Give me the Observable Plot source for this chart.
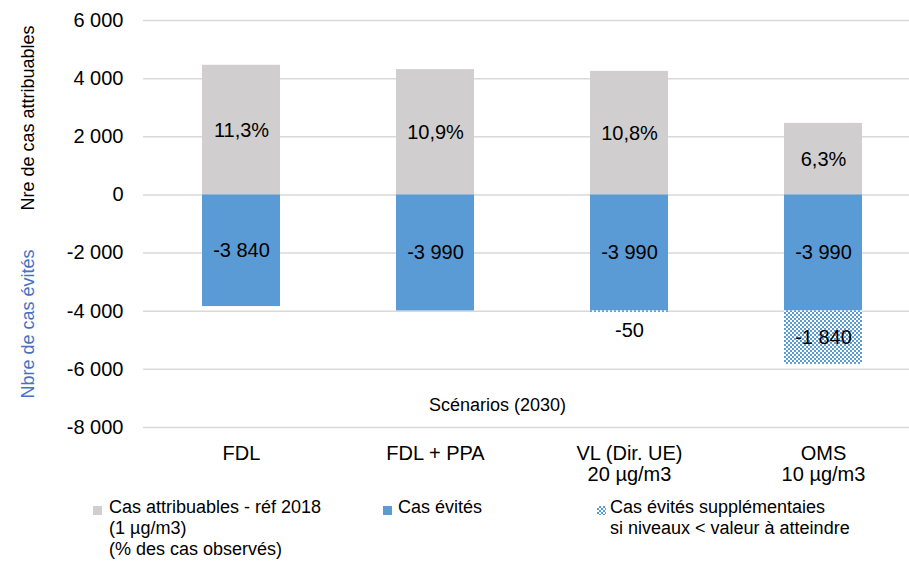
<!DOCTYPE html>
<html><head><meta charset="utf-8">
<script src="https://cdn.jsdelivr.net/npm/d3@7"></script>
<script src="https://cdn.jsdelivr.net/npm/@observablehq/plot@0.6"></script>
<style>
body{margin:0;background:#fff;font-family:"Liberation Sans",Arial,sans-serif;}
#wrap{position:relative;width:909px;height:566px;overflow:hidden;}
.leg{position:absolute;font-size:18px;line-height:21px;color:#000;white-space:nowrap;}
.sw{position:absolute;width:9px;height:9px;}
</style></head><body><div id="wrap"></div>
<script>
const scenarios = ["FDL", "FDL + PPA", "VL (Dir. UE)\n20 µg/m3", "OMS\n10 µg/m3"];
const attribuables = [4460, 4310, 4250, 2460];
const pctLabels = ["11,3%", "10,9%", "10,8%", "6,3%"];
const evites = [-3840, -3990, -3990, -3990];
const supplementaires = [0, 0, -50, -1840];
const yTicks = [-8000, -6000, -4000, -2000, 0, 2000, 4000, 6000];
const legendLabels = ["Cas attribuables - réf 2018\n(1 µg/m3)\n(% des cas observés)", "Cas évités", "Cas évités supplémentaies\nsi niveaux < valeur à atteindre"];
const yTitleTop = "Nre de cas attribuables";
const yTitleBottom = "Nbre de cas évités";
const xTitle = "Scénarios (2030)";

const GRAY = "#D0CECE", BLUE = "#5B9BD5", TITLEBLUE = "#4472C4";
const fmt = d3.formatLocale({decimal: ",", thousands: " ", grouping: [3], currency: ["", ""], minus: "-"}).format(",.0f");

const rows = scenarios.map((s, i) => ({s, attr: attribuables[i], pct: pctLabels[i], ev: evites[i], sup: supplementaires[i]}));
const FONT = "'Liberation Sans', Arial, sans-serif";

const svg = Plot.plot({
  width: 909, height: 490,
  marginLeft: 143, marginRight: 0, marginTop: 20, marginBottom: 63,
  style: {fontFamily: FONT, fontSize: "20px", color: "#000", background: "#fff"},
  x: {domain: scenarios, range: [143, 920], paddingInner: 0.6, paddingOuter: 0.3, label: null},
  y: {domain: [-8000, 6000], label: null},
  marks: [
    Plot.gridY(yTicks, {stroke: "#d9d9d9", strokeOpacity: 1, strokeWidth: 1.5}),
    Plot.axisY(yTicks, {tickSize: 0, tickPadding: 20, label: null, tickFormat: fmt, fontSize: 20}),
    Plot.axisX({tickSize: 0, tickPadding: 18, label: null, fontSize: 20, lineHeight: 1.05}),
    Plot.barY(rows, {x: "s", y1: 0, y2: "attr", fill: GRAY}),
    Plot.barY(rows, {x: "s", y1: 0, y2: "ev", fill: BLUE}),
    Plot.barY(rows.filter(d => d.sup < 0), {x: "s", y1: "ev", y2: d => d.ev + d.sup, fill: "url(#hatchpat)"}),
    Plot.text(rows, {x: "s", y: d => d.attr / 2, text: "pct", fontSize: 20}),
    Plot.text(rows, {x: "s", y: d => d.ev / 2, text: d => fmt(d.ev), fontSize: 20}),
    Plot.text(rows.filter(d => d.sup < -500), {x: "s", y: d => d.ev + d.sup / 2, text: d => fmt(d.sup), fontSize: 20}),
    Plot.text(rows.filter(d => d.sup < 0 && d.sup >= -500), {x: "s", y: d => d.ev + d.sup, dy: 18, text: d => fmt(d.sup), fontSize: 20}),
    Plot.text([xTitle], {frameAnchor: "bottom", lineAnchor: "middle", dx: -29, dy: -22, fontSize: 18})
  ]
});

const s = d3.select(svg);
const pat = s.insert("defs", ":first-child").append("pattern")
  .attr("id", "hatchpat").attr("width", 4).attr("height", 4).attr("patternUnits", "userSpaceOnUse");
pat.append("rect").attr("width", 4).attr("height", 4).attr("fill", "#fff");
pat.append("rect").attr("width", 2).attr("height", 2).attr("fill", BLUE);
pat.append("rect").attr("x", 2).attr("y", 2).attr("width", 2).attr("height", 2).attr("fill", BLUE);

s.append("text").attr("transform", "translate(34,118) rotate(-90)").attr("text-anchor", "middle")
  .attr("font-size", 18).attr("fill", "#000").attr("font-family", FONT).text(yTitleTop);
s.append("text").attr("transform", "translate(34,324) rotate(-90)").attr("text-anchor", "middle")
  .attr("font-size", 18).attr("fill", TITLEBLUE).attr("font-family", FONT).text(yTitleBottom);

const wrap = document.getElementById("wrap");
wrap.appendChild(svg);
svg.style.position = "absolute"; svg.style.left = "0"; svg.style.top = "0";

const legendItems = [
  {sw: 93, tx: 109, bg: GRAY},
  {sw: 383, tx: 398, bg: BLUE},
  {sw: 597, tx: 610, bg: `repeating-conic-gradient(${BLUE} 0 25%, #fff 0 50%) 0 0 / 4px 4px`}
];
legendItems.forEach((it, i) => {
  const sw = document.createElement("div");
  sw.className = "sw"; sw.style.left = it.sw + "px"; sw.style.top = "506px"; sw.style.background = it.bg;
  wrap.appendChild(sw);
  const t = document.createElement("div");
  t.className = "leg"; t.style.left = it.tx + "px"; t.style.top = "497px";
  t.innerHTML = legendLabels[i].split("\n").join("<br>");
  wrap.appendChild(t);
});
</script></body></html>
